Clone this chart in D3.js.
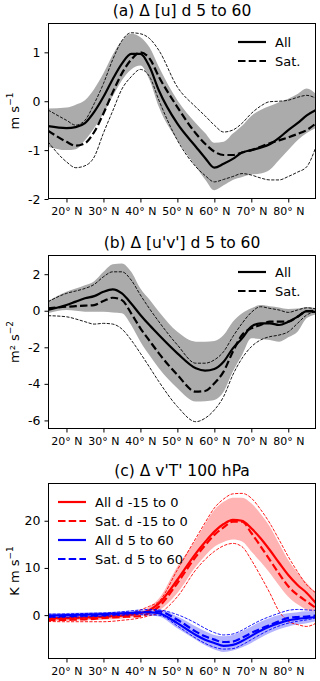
<!DOCTYPE html>
<meta charset="utf-8">
<style>
body {
    margin: 0px;
    background: white;
    font-family: "DejaVu Sans", sans-serif;
}
.title {
  font-size: 15.5px;
}
.tick text {
  font-family: "DejaVu Sans", sans-serif;
}
</style>
<body>
<script src="https://d3js.org/d3.v7.min.js"></script>
<script>
var width = 320,
    height = 681,
    left = 48,
    right = 316

// latitudes (deg N)
var lats = [15, 20, 22.5, 25, 27.5, 30, 32.5, 35, 37.5, 40, 42.5, 45, 50, 55, 57.5, 60, 62.5, 65, 67.5, 70, 72.5, 75, 77.5, 80, 82.5, 85, 87.5]
var xTicks = [20, 30, 40, 50, 60, 70, 80]

// (a) delta [u]
var uAll   = [-0.51,-0.55,-0.53,-0.45,-0.22, 0.09, 0.45, 0.77, 0.97, 0.97, 0.7, 0.22,-0.46,-0.93,-1.16,-1.36,-1.28,-1.18,-1.05,-1.0,-0.95,-0.88,-0.75,-0.59,-0.45,-0.29,-0.18]
var uSat   = [-0.6,-0.83,-0.91,-0.86,-0.63,-0.25, 0.18, 0.57, 0.85, 1.0, 0.87, 0.5,-0.12,-0.66,-0.87,-1.03,-1.1,-1.1,-1.05,-1.0,-0.93,-0.86,-0.8,-0.74,-0.67,-0.59,-0.45]
var uAllHi = [-0.15,-0.13,-0.07, 0.02, 0.25, 0.57, 0.95, 1.24, 1.38, 1.31, 1.1, 0.7, 0.02,-0.45,-0.65,-0.85,-0.83,-0.66,-0.5,-0.3,-0.18,-0.1,-0.02, 0.05, 0.15, 0.26, 0.15]
var uAllLo = [-0.93,-1.0,-0.98,-0.8,-0.55,-0.25, 0.1, 0.43, 0.65, 0.73, 0.43,-0.12,-0.8,-1.34,-1.6,-1.82,-1.72,-1.61,-1.55,-1.5,-1.48,-1.4,-1.2,-1.0,-0.8,-0.65,-0.55]
var uSatHi = [-0.18,-0.39,-0.49,-0.39,-0.05, 0.36, 0.85, 1.24, 1.4, 1.38, 1.28, 1.04, 0.29,-0.12,-0.3,-0.49,-0.63,-0.59,-0.45,-0.25,-0.1,-0.01, 0.0, 0.02, 0.08, 0.12, 0.06]
var uSatLo = [-0.83,-1.24,-1.36,-1.32,-1.14,-0.65,-0.2, 0.25, 0.5, 0.65, 0.5, 0.02,-0.8,-1.34,-1.52,-1.65,-1.6,-1.54,-1.48,-1.51,-1.57,-1.61,-1.61,-1.54,-1.45,-1.34,-0.93]

// (b) delta [u'v']
var mAll   = [0.05, 0.31, 0.5, 0.68, 0.8, 1.04, 1.17, 0.95, 0.4,-0.23,-0.8,-1.33,-2.33,-3.15,-3.28,-3.19,-2.79,-2.06,-1.51,-0.87,-0.69,-0.69,-0.78,-0.6,-0.33,-0.02,-0.07]
var mSat   = [0.13, 0.22, 0.25, 0.28, 0.31, 0.53, 0.71, 0.58,-0.14,-0.96,-1.65,-2.33,-3.51,-4.43,-4.39,-3.97,-3.33,-2.24,-1.33,-0.96,-0.78,-0.6,-0.6,-0.6,-0.33,-0.02, 0.0]
var mAllHi = [0.53, 1.04, 1.22, 1.4, 1.62, 2.13, 2.54, 2.59, 2.13, 1.22, 0.6,-0.05,-1.15,-1.69,-1.7,-1.66,-1.33,-0.6,-0.14, 0.13, 0.31, 0.25, 0.18, 0.1, 0.12, 0.2, 0.13]
var mAllLo = [-0.14, 0.04, 0.0,-0.05,-0.05,-0.05,-0.1,-0.14,-0.78,-1.69,-2.45,-3.15,-4.24,-4.97,-4.95,-4.88,-4.43,-3.33,-2.42,-1.51,-1.55,-1.6,-1.69,-1.45,-1.15,-0.4,-0.2]
var mSatHi = [0.49, 0.95, 1.08, 1.22, 1.44, 1.86, 2.13, 2.13, 1.68, 0.86, 0.1,-0.6,-1.87,-2.87,-2.87,-2.69,-2.24,-1.42,-0.69,-0.09, 0.22, 0.13, 0.04,-0.09, 0.04, 0.16, 0.1]
var mSatLo = [-0.27,-0.33,-0.45,-0.6,-0.73,-0.69,-0.73,-1.0,-1.6,-2.33,-3.1,-3.88,-5.24,-6.07,-5.88,-5.43,-4.7,-3.51,-2.6,-1.97,-1.6,-1.42,-1.33,-1.15,-0.69,-0.23,-0.05]

// (c) delta v'T' 100 hPa, d -15 to 0 (red)
var hPreAll   = [-0.64,-0.6,-0.55,-0.5,-0.4,-0.3,-0.2,-0.1, 0.1, 0.4, 1.1, 2.5, 7.5, 13.1, 15.5, 17.7, 19.3, 20.2, 20.0, 18.4, 16.3, 13.8, 11.1, 8.5, 6.4, 4.7, 2.5]
var hPreSat   = [-1.0,-1.0,-0.95,-0.9,-0.8,-0.6,-0.5,-0.4,-0.3,-0.2, 0.5, 1.8, 6.8, 12.4, 14.8, 17.0, 18.6, 19.8, 19.8, 17.4, 14.6, 11.7, 8.8, 6.1, 4.3, 2.9, 1.5]
var hPreAllHi = [-0.1,-0.1,-0.05, 0.0, 0.05, 0.1, 0.2, 0.3, 0.5, 0.8, 1.8, 3.5, 10.3, 16.0, 19.3, 22.3, 24.0, 24.9, 24.9, 23.7, 21.5, 18.8, 15.2, 11.7, 9.0, 6.8, 4.7]
var hPreAllLo = [-1.2,-1.2,-1.15,-1.1,-1.05,-1.0,-0.9,-0.7,-0.5,-0.3, 0.2, 1.0, 4.7, 10.3, 12.6, 14.5, 15.5, 16.0, 15.6, 13.5, 11.3, 8.9, 6.3, 3.9, 2.3, 1.1, 0.4]
var hPreSatHi = [-0.8,-0.8,-0.75,-0.7,-0.6,-0.5,-0.3, 0.0, 0.4, 1.1, 1.9, 2.9, 9.6, 16.3, 19.6, 22.7, 24.6, 25.7, 25.8, 24.8, 22.4, 19.5, 16.0, 12.4, 9.2, 6.4, 4.7]
var hPreSatLo = [-1.35,-1.4,-1.4,-1.4,-1.4,-1.4,-1.3,-1.1,-0.9,-0.6,-0.1, 0.4, 3.9, 9.6, 11.8, 13.5, 14.7, 15.2, 14.5, 11.7, 8.3, 4.7, 0.8,-1.3,-2.0,-2.4,-1.7]
// d 5 to 60 (blue)
var hPostAll   = [-0.1, 0.0, 0.05, 0.1, 0.15, 0.2, 0.3, 0.35, 0.45, 0.55, 0.6, 0.4,-1.7,-4.2,-5.2,-5.9,-6.5,-6.3,-5.5,-4.4,-3.3,-2.4,-1.7,-1.1,-0.8,-0.6,-0.4]
var hPostSat   = [-0.3,-0.2,-0.15,-0.1,-0.05, 0.0, 0.15, 0.3, 0.45, 0.6, 0.75, 0.8,-1.0,-3.5,-4.5,-5.2,-5.7,-5.6,-4.8,-3.8,-2.9,-2.1,-1.3,-0.6,-0.4,-0.3,-0.1]
var hPostAllHi = [0.4, 0.45, 0.5, 0.55, 0.6, 0.65, 0.7, 0.8, 0.9, 1.0, 1.1, 1.2,-0.3,-2.4,-3.4,-4.2,-4.5,-4.2,-3.4,-2.4,-1.4,-0.6, 0.0, 0.4, 0.6, 0.8, 0.8]
var hPostAllLo = [-0.6,-0.5,-0.45,-0.4,-0.35,-0.3,-0.2,-0.1, 0.0, 0.0,-0.1,-0.3,-2.8,-5.2,-6.4,-7.3,-7.8,-7.5,-6.8,-5.9,-4.8,-3.8,-3.0,-2.4,-2.0,-1.7,-1.3]
var hPostSatHi = [0.2, 0.25, 0.3, 0.35, 0.4, 0.45, 0.55, 0.7, 0.9, 1.1, 1.2, 1.1, 0.1,-1.7,-2.8,-3.7,-4.2,-4.0,-3.2,-2.1,-1.1,-0.3, 0.4, 1.0, 1.2, 1.1, 1.0]
var hPostSatLo = [-0.5,-0.45,-0.4,-0.35,-0.3,-0.25,-0.15,-0.05, 0.05, 0.1, 0.05, 0.0,-2.3,-4.9,-6.0,-6.8,-7.2,-7.1,-6.3,-5.2,-4.1,-3.1,-2.3,-1.7,-1.3,-1.0,-0.6]

var svg = d3.select("body").append("svg")
    .attr("width", width)
    .attr("height", height)

var x = d3.scaleLinear().domain([15, 87.5]).range([left, right])

var thin = "3.2,1.4",
    thick = "7.5,3.2"

var panels = [
  { id: "a", title: "(a) \u0394 [u] d 5 to 60", top: 23, bottom: 199, yDomain: [-2, 1.6],
    yTicks: [-2, -1, 0, 1], ylabel: ["m s", "\u22121"],
    bands: [{ lo: uAllLo, hi: uAllHi, fill: "#ababab" }],
    lines: [
      { v: uSatHi, color: "black", w: 0.9, dash: thin },
      { v: uSatLo, color: "black", w: 0.9, dash: thin },
      { v: uAll, color: "black", w: 2.2 },
      { v: uSat, color: "black", w: 2.2, dash: thick }],
    legend: { x: 238, y: 42, dy: 19, items: [["All", "black", null], ["Sat.", "black", thick]] } },
  { id: "b", title: "(b) \u0394 [u'v'] d 5 to 60", top: 255, bottom: 429, yDomain: [-6.47, 3.05],
    yTicks: [-6, -4, -2, 0, 2], ylabel: ["m\u00b2 s", "\u22122"],
    bands: [{ lo: mAllLo, hi: mAllHi, fill: "#ababab" }],
    lines: [
      { v: mSatHi, color: "black", w: 0.9, dash: thin },
      { v: mSatLo, color: "black", w: 0.9, dash: thin },
      { v: mAll, color: "black", w: 2.2 },
      { v: mSat, color: "black", w: 2.2, dash: thick }],
    legend: { x: 238, y: 272, dy: 19, items: [["All", "black", null], ["Sat.", "black", thick]] } },
  { id: "c", title: "(c) \u0394 v'T' 100 hPa", top: 483, bottom: 659, yDomain: [-9.3, 28],
    yTicks: [0, 10, 20], ylabel: ["K m s", "\u22121"],
    bands: [{ lo: hPreAllLo, hi: hPreAllHi, fill: "#ffb3b3" },
            { lo: hPostAllLo, hi: hPostAllHi, fill: "#b3b3ff" }],
    lines: [
      { v: hPreSatHi, color: "red", w: 0.9, dash: thin },
      { v: hPreSatLo, color: "red", w: 0.9, dash: thin },
      { v: hPreAll, color: "red", w: 2.2 },
      { v: hPreSat, color: "red", w: 2.2, dash: thick },
      { v: hPostSatHi, color: "blue", w: 0.9, dash: thin },
      { v: hPostSatLo, color: "blue", w: 0.9, dash: thin },
      { v: hPostAll, color: "blue", w: 2.2 },
      { v: hPostSat, color: "blue", w: 2.2, dash: thick }],
    legend: { x: 58, y: 502, dy: 19, items: [["All d -15 to 0", "red", null], ["Sat. d -15 to 0", "red", thick],
                                          ["All d 5 to 60", "blue", null], ["Sat. d 5 to 60", "blue", thick]] } }
]

panels.forEach(function(p) {
  var y = d3.scaleLinear().domain(p.yDomain).range([p.bottom, p.top])
  var g = svg.append("g")

  g.append("clipPath").attr("id", "clip-" + p.id)
    .append("rect")
      .attr("x", left).attr("y", p.top)
      .attr("width", right - left).attr("height", p.bottom - p.top)

  var plot = g.append("g").attr("clip-path", "url(#clip-" + p.id + ")")

  var area = d3.area()
      .x(function(d, i) { return x(lats[i]) })
      .curve(d3.curveMonotoneX)

  p.bands.forEach(function(b) {
    plot.append("path")
      .datum(lats)
      .attr("fill", b.fill)
      .attr("d", area.y0(function(d, i) { return y(b.lo[i]) }).y1(function(d, i) { return y(b.hi[i]) }))
  })

  p.lines.forEach(function(l) {
    var line = d3.line()
        .x(function(d, i) { return x(lats[i]) })
        .y(function(d) { return y(d) })
        .curve(d3.curveMonotoneX)
    plot.append("path")
      .datum(l.v)
      .attr("fill", "none")
      .attr("stroke", l.color)
      .attr("stroke-width", l.w)
      .attr("stroke-dasharray", l.dash || null)
      .attr("d", line)
  })

  // frame
  g.append("rect")
    .attr("x", left + 0.5).attr("y", p.top + 0.5)
    .attr("width", right - left - 1).attr("height", p.bottom - p.top - 1)
    .attr("fill", "none").attr("stroke", "black").attr("stroke-width", 1)

  var xAxis = g.append("g")
    .attr("transform", "translate(0," + (p.bottom - 0.5) + ")")
    .call(d3.axisBottom(x).tickValues(xTicks).tickSize(4).tickSizeOuter(0).tickPadding(5)
      .tickFormat(function(d) { return d + "\u00b0 N" }))
  xAxis.select(".domain").remove()
  xAxis.selectAll("text").style("font-size", "11px").attr("fill", "black")

  var yAxis = g.append("g")
    .attr("transform", "translate(" + (left + 0.5) + ",0)")
    .call(d3.axisLeft(y).tickValues(p.yTicks).tickSize(4).tickSizeOuter(0).tickPadding(4)
      .tickFormat(function(d) { return String(d) }))
  yAxis.select(".domain").remove()
  yAxis.selectAll("text").style("font-size", "12.5px").attr("fill", "black")

  // axis label
  var yl = g.append("text")
    .attr("transform", "translate(19," + ((p.top + p.bottom) / 2) + ") rotate(-90)")
    .attr("text-anchor", "middle")
    .style("font-size", "13px")
  yl.append("tspan").text(p.ylabel[0])
  yl.append("tspan").attr("dy", -6).style("font-size", "9px").text(p.ylabel[1])

  g.append("text")
    .attr("class", "title")
    .attr("x", (left + right) / 2)
    .attr("y", p.top - 7)
    .attr("text-anchor", "middle")
    .text(p.title)

  var lg = g.append("g")
  p.legend.items.forEach(function(it, i) {
    var ly = p.legend.y + i * p.legend.dy
    lg.append("line")
      .attr("x1", p.legend.x).attr("x2", p.legend.x + 28)
      .attr("y1", ly).attr("y2", ly)
      .attr("stroke", it[1]).attr("stroke-width", 2.2)
      .attr("stroke-dasharray", it[2])
    lg.append("text")
      .attr("x", p.legend.x + 37).attr("y", ly + 5)
      .style("font-size", "13px")
      .text(it[0])
  })
})
</script>
